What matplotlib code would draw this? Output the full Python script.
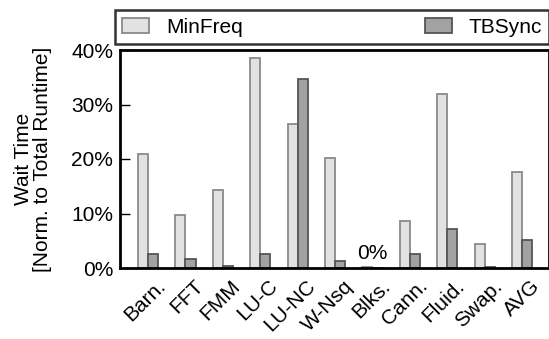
import numpy as np
import matplotlib.pyplot as plt
import matplotlib.transforms as mtransforms
from matplotlib.ticker import FuncFormatter

benchmarks = ['Barn.', 'FFT', 'FMM', 'LU-C', 'LU-NC', 'W-Nsq', 'Blks.',
              'Cann.', 'Fluid.', 'Swap.', 'AVG']
minfreq = [21.0, 9.8, 14.3, 38.6, 26.5, 20.2, 0.2, 8.6, 32.0, 4.4, 17.6]
tbsync = [2.5, 1.7, 0.4, 2.5, 34.6, 1.2, 0.0, 2.5, 7.2, 0.1, 5.2]

plt.rcParams['font.family'] = ['Liberation Sans', 'DejaVu Sans']
fs = 15

fig = plt.figure(figsize=(5.49, 3.39), dpi=100)
ax = fig.add_axes([120 / 549, 1 - 268 / 339, 429 / 549, 218 / 339])

x = np.arange(len(benchmarks))
w = 0.27
b1 = ax.bar(x - w / 2, minfreq, w, color='#e2e2e2', edgecolor='#8a8a8a',
            linewidth=1.3, label='MinFreq')
b2 = ax.bar(x + w / 2, tbsync, w, color='#a2a2a2', edgecolor='#555555',
            linewidth=1.3, label='TBSync')

ax.text(6, 1.0, '0%', ha='center', va='bottom', fontsize=fs)

ax.set_xlim(-0.75, 10.72)
ax.set_ylim(0, 40)
ax.set_yticks([0, 10, 20, 30, 40])
ax.yaxis.set_major_formatter(FuncFormatter(lambda v, p: f'{int(v)}%'))
ax.tick_params(axis='y', direction='in', length=7, width=1, labelsize=fs, pad=5)
ax.set_xticks(x)
ax.set_xticklabels(benchmarks, rotation=45, ha='right', rotation_mode='anchor',
                   fontsize=fs)
ax.tick_params(axis='x', length=0, pad=6)
# nudge the rotated labels a bit to the right
shift = mtransforms.ScaledTranslation(8 / 100, 0, fig.dpi_scale_trans)
for lab in ax.get_xticklabels():
    lab.set_transform(lab.get_transform() + shift)
for s in ax.spines.values():
    s.set_linewidth(2)

ax.set_ylabel('Wait Time\n[Norm. to Total Runtime]', fontsize=fs,
              linespacing=1.0, labelpad=14)

leg = fig.legend(handles=[b1, b2], loc='lower left', ncol=2, mode='expand',
                 bbox_to_anchor=(115 / 549, 1 - 44 / 339, 434 / 549, 38 / 339),
                 fontsize=fs, frameon=True, fancybox=False, borderaxespad=0,
                 handlelength=1.3, handleheight=0.8, borderpad=0.35)
leg.get_frame().set_edgecolor('black')
leg.get_frame().set_linewidth(1.8)

fig.savefig('out.png', dpi=100)
